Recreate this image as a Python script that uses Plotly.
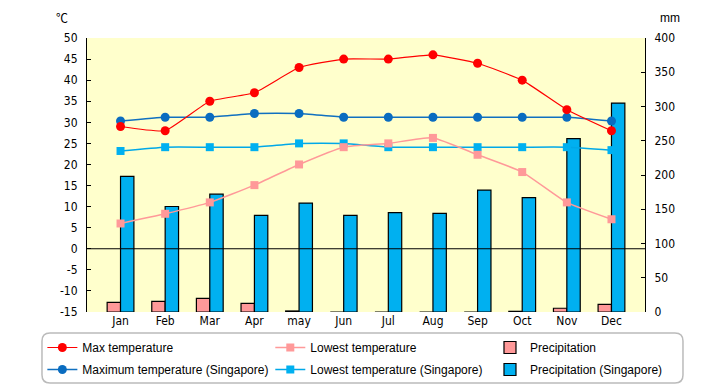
import plotly.graph_objects as go

months = ["Jan", "Feb", "Mar", "Apr", "may", "Jun", "Jul", "Aug", "Sep", "Oct", "Nov", "Dec"]
max_temp = [29, 28, 35, 37, 43, 45, 45, 46, 44, 40, 33, 28]
low_temp = [6, 8.3, 11, 15.1, 20, 24.1, 25, 26.3, 22.3, 18.2, 11, 7]
precip = [14, 15.5, 20, 12.5, 1.5, 0, 0, 0, 0, 1, 5.5, 11]
max_temp_sg = [30.3, 31.2, 31.2, 32.1, 32.1, 31.2, 31.2, 31.2, 31.2, 31.2, 31.2, 30.3]
low_temp_sg = [23.2, 24.1, 24.1, 24.1, 25.0, 25.0, 24.1, 24.1, 24.1, 24.1, 24.1, 23.4]
precip_sg = [198, 154, 172, 141, 159, 141, 145, 144, 178, 167, 253, 305]

temp_ticks = [50, 45, 40, 35, 30, 25, 20, 15, 10, 5, 0, -5, -10, -15]
temp_tick_labels = ["50", "45", "40", "35", "30", "25", "20", "15", "10", "5", "0", "-5", "-10", "-15"]
precip_ticks = [0, 50, 100, 150, 200, 250, 300, 350, 400]

fig = go.Figure()

fig.add_trace(go.Bar(x=months, y=precip, name="Precipitation", yaxis="y",
                     marker=dict(color="#FF9999", line=dict(color="black", width=1.2)),
                     legend="legend3", legendgroup="p", legendrank=1))
fig.add_trace(go.Bar(x=months, y=precip_sg, name="Precipitation (Singapore)", yaxis="y",
                     marker=dict(color="#00B0F0", line=dict(color="black", width=1.2)),
                     legend="legend3", legendgroup="psg", legendrank=2))

fig.add_trace(go.Scatter(x=months, y=low_temp_sg, name="Lowest temperature (Singapore)", yaxis="y2",
                         mode="lines+markers", line=dict(color="#00A8E8", width=1.5, shape="spline", smoothing=0.4),
                         marker=dict(symbol="square", size=8, color="#00B0F0"),
                         legend="legend2", legendgroup="lsg", legendrank=2))
fig.add_trace(go.Scatter(x=months, y=low_temp, name="Lowest temperature", yaxis="y2",
                         mode="lines+markers", line=dict(color="#FF9999", width=1.5, shape="spline", smoothing=0.5),
                         marker=dict(symbol="square", size=8, color="#FF9999"),
                         legend="legend2", legendgroup="l", legendrank=1))
fig.add_trace(go.Scatter(x=months, y=max_temp_sg, name="Maximum temperature (Singapore)", yaxis="y2",
                         mode="lines+markers", line=dict(color="#1070C0", width=1.5, shape="spline", smoothing=0.3),
                         marker=dict(symbol="circle", size=9, color="#0A6CC0"),
                         legend="legend", legendgroup="msg", legendrank=2))
fig.add_trace(go.Scatter(x=months, y=max_temp, name="Max temperature", yaxis="y2",
                         mode="lines+markers", line=dict(color="#FF0000", width=1.2, shape="spline", smoothing=0.4),
                         marker=dict(symbol="circle", size=9, color="#FF0000"),
                         legend="legend", legendgroup="m", legendrank=1))

tick_font = dict(family="Liberation Sans Narrow, DejaVu Sans Condensed, Arial Narrow, sans-serif", size=12, color="black")
legend_font = dict(family="Liberation Sans, Arial, sans-serif", size=12, color="black")

def leg(x):
    return dict(orientation="v", x=x, xanchor="left", y=-0.0766, yanchor="top",
                font=legend_font, bgcolor="rgba(0,0,0,0)", borderwidth=0,
                tracegroupgap=3, traceorder="grouped")

fig.update_layout(
    width=720, height=385,
    margin=dict(l=87, r=75, t=38, b=73, autoexpand=False),
    paper_bgcolor="white",
    plot_bgcolor="#FFFFCC",
    barmode="group", bargap=0.4, bargroupgap=0,
    showlegend=True,
    legend=leg(-0.08),
    legend2=leg(0.3285),
    legend3=leg(0.7222),
    xaxis=dict(showline=False, ticks="", showgrid=False, zeroline=False, tickfont=tick_font),
    yaxis=dict(side="right", range=[0, 400], tickvals=precip_ticks, ticks="inside", ticklen=4, tickcolor="black",
               showline=True, linecolor="black", linewidth=1, showgrid=False, zeroline=False,
               tickfont=tick_font, ticklabelstandoff=6),
    yaxis2=dict(overlaying="y", side="left", range=[-15, 50], tickvals=temp_ticks, ticktext=temp_tick_labels,
                ticks="inside", ticklen=4,
                tickcolor="black", showline=True, linecolor="black", linewidth=1, showgrid=False,
                zeroline=False, tickfont=tick_font, ticklabelstandoff=6),
    annotations=[
        dict(text="℃", xref="paper", yref="paper", x=-0.0448, y=1.073, xanchor="center", yanchor="middle",
             showarrow=False, font=dict(family="Noto Sans CJK JP, sans-serif", size=12, color="black")),
        dict(text="mm", xref="paper", yref="paper", x=1.045, y=1.073, xanchor="center", yanchor="middle",
             showarrow=False, font=dict(family="Liberation Sans, Arial, sans-serif", size=12, color="black")),
    ],
    shapes=[
        dict(type="line", xref="paper", x0=0, x1=1, yref="y2", y0=0, y1=0,
             line=dict(color="black", width=1.2), layer="above"),
        dict(type="path", xref="paper", yref="paper", xsizemode="pixel", ysizemode="pixel",
             xanchor=0.4937, yanchor=-0.1679,
             path="M -312.5,-25 L 312.5,-25 Q 320.5,-25 320.5,-17 L 320.5,17 Q 320.5,25 312.5,25 "
                  "L -312.5,25 Q -320.5,25 -320.5,17 L -320.5,-17 Q -320.5,-25 -312.5,-25 Z",
             line=dict(color="#BBBBBB", width=1.5), layer="below"),
    ],
)

fig.write_html("out.html", config={"displayModeBar": False},
               post_script="document.body.style.margin='0';document.body.style.padding='0';")
